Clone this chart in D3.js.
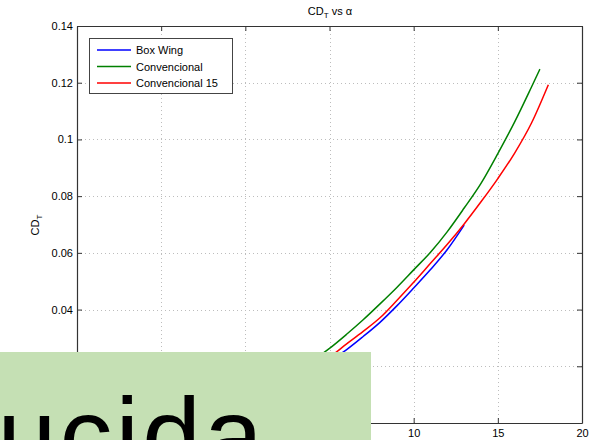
<!DOCTYPE html>
<html>
<head>
<meta charset="utf-8">
<script src="https://cdn.jsdelivr.net/npm/d3@7"></script>
<style>
  html, body { margin: 0; padding: 0; background: #fff; }
  svg { display: block; }
  text { font-family: "Liberation Sans", Arial, Helvetica, sans-serif; }
</style>
</head>
<body>
<svg id="chart" width="590" height="440"></svg>
<script>
// ---- data ----
const seriesNames = ["Box Wing", "Convencional", "Convencional 15"];
const seriesColors = ["#0000ff", "#008000", "#ff0000"];

const alphaBox = [0, 1, 2, 3, 4, 5, 6, 7, 8, 9, 10, 11, 12, 13];
const cdBox    = [0.0100, 0.0115, 0.0135, 0.0160, 0.0185, 0.0218, 0.0258, 0.0305, 0.0355, 0.0413, 0.0476, 0.0541, 0.0612, 0.0698];

const alphaConv = [0, 1, 2, 3, 4, 5, 6, 7, 8, 9, 10, 11, 12, 13, 14, 15, 16, 17, 17.5];
const cdConv    = [0.0110, 0.0128, 0.0152, 0.0183, 0.0220, 0.0263, 0.0312, 0.0364, 0.0420, 0.0478, 0.0540, 0.0602, 0.0675, 0.0758, 0.0845, 0.0950, 0.1062, 0.1185, 0.1248];

const alphaConv15 = [0, 1, 2, 3, 4, 5, 6, 7, 8, 9, 10, 11, 12, 13, 14, 15, 16, 17, 18];
const cdConv15    = [0.0100, 0.0118, 0.0142, 0.0172, 0.0205, 0.0233, 0.0278, 0.0323, 0.0371, 0.0432, 0.0496, 0.0563, 0.0630, 0.0702, 0.0780, 0.0862, 0.0952, 0.1058, 0.1193];

const xTicks = [-10, -5, 0, 5, 10, 15, 20];
// labels of ticks that are covered by the green overlay are left blank
const xTickLabels = ["", "", "", "", "10", "15", "20"];
const yTicks = [0, 0.02, 0.04, 0.06, 0.08, 0.1, 0.12, 0.14];
const yTickLabels = ["", "", "0.04", "0.06", "0.08", "0.1", "0.12", "0.14"];
const overlayWord = "ucida";

// ---- layout ----
const svg = d3.select("#chart");
const L = 77, R = 582, T = 26, B = 423;
const x = d3.scaleLinear().domain([-10, 20]).range([L, R]);
const y = d3.scaleLinear().domain([0, 0.14]).range([B, T]);

// grid
const grid = svg.append("g");
grid.selectAll(".gx").data(xTicks.slice(1, -1)).join("line")
  .attr("x1", d => Math.round(x(d)) + 0.5).attr("x2", d => Math.round(x(d)) + 0.5)
  .attr("y1", T).attr("y2", B)
  .attr("stroke", "#bdbdbd").attr("stroke-width", 1).attr("stroke-dasharray", "1,3");
grid.selectAll(".gy").data(yTicks.slice(1, -1)).join("line")
  .attr("y1", d => Math.round(y(d)) + 0.5).attr("y2", d => Math.round(y(d)) + 0.5)
  .attr("x1", L).attr("x2", R)
  .attr("stroke", "#bdbdbd").attr("stroke-width", 1).attr("stroke-dasharray", "1,3");

// axes (inward ticks, MATLAB style)
const axColor = "#333";
const fmtX = (d) => xTickLabels[xTicks.indexOf(d)];
const fmtY = (d) => yTickLabels[yTicks.indexOf(d)];
const gxB = svg.append("g").attr("transform", `translate(0,${B})`)
  .call(d3.axisBottom(x).tickValues(xTicks).tickSize(-5).tickSizeOuter(0).tickPadding(6).tickFormat(fmtX));
const gxT = svg.append("g").attr("transform", `translate(0,${T})`)
  .call(d3.axisTop(x).tickValues(xTicks).tickSize(-5).tickSizeOuter(0).tickFormat(""));
const gyL = svg.append("g").attr("transform", `translate(${L},0)`)
  .call(d3.axisLeft(y).tickValues(yTicks).tickSize(-5).tickSizeOuter(0).tickPadding(4).tickFormat(fmtY));
const gyR = svg.append("g").attr("transform", `translate(${R},0)`)
  .call(d3.axisRight(y).tickValues(yTicks).tickSize(-5).tickSizeOuter(0).tickFormat(""));
[gxB, gxT, gyL, gyR].forEach(g => {
  g.selectAll("path.domain").attr("stroke", axColor).attr("stroke-width", 1.2);
  g.selectAll(".tick line").attr("stroke", axColor);
  g.selectAll(".tick text").attr("fill", "#000").attr("font-size", 11)
    .attr("font-family", "'Liberation Sans', Arial, sans-serif");
  g.selectAll(".tick text").filter(function () { return this.textContent === ""; }).remove();
});

// lines
const line = d3.line().x(d => x(d[0])).y(d => y(d[1])).curve(d3.curveMonotoneX);
const series = [
  { a: alphaBox, c: cdBox, color: seriesColors[0] },
  { a: alphaConv, c: cdConv, color: seriesColors[1] },
  { a: alphaConv15, c: cdConv15, color: seriesColors[2] }
];
const plot = svg.append("g");
series.forEach(s => {
  plot.append("path")
    .datum(s.a.map((v, i) => [v, s.c[i]]))
    .attr("d", line).attr("fill", "none")
    .attr("stroke", s.color).attr("stroke-width", 1.5).attr("stroke-linejoin", "round");
});

// title
const title = svg.append("text").attr("x", 330).attr("y", 15)
  .attr("text-anchor", "middle").attr("font-size", 11).attr("fill", "#000");
title.append("tspan").text("CD");
title.append("tspan").attr("font-size", 8).attr("dy", 3).text("T");
title.append("tspan").attr("dy", -3).text(" vs α");

// y label
const ylab = svg.append("text").attr("transform", "translate(39,225) rotate(-90)")
  .attr("text-anchor", "middle").attr("font-size", 11).attr("fill", "#000");
ylab.append("tspan").text("CD");
ylab.append("tspan").attr("font-size", 8).attr("dy", 3).text("T");

// legend
const lg = svg.append("g");
lg.append("rect").attr("x", 89.5).attr("y", 38.5).attr("width", 143).attr("height", 55)
  .attr("fill", "#fff").attr("stroke", "#444").attr("stroke-width", 1);
seriesNames.forEach((n, i) => {
  const yy = 50 + i * 16.5;
  lg.append("line").attr("x1", 97).attr("x2", 131).attr("y1", yy).attr("y2", yy)
    .attr("stroke", seriesColors[i]).attr("stroke-width", 1.5);
  lg.append("text").attr("x", 136).attr("y", yy + 4).attr("font-size", 11)
    .attr("fill", "#000").text(n);
});

// overlay box
svg.append("rect").attr("x", 0).attr("y", 352).attr("width", 371).attr("height", 88)
  .attr("fill", "#c5e0b4");
svg.append("text").attr("x", 266).attr("y", 472).attr("text-anchor", "end")
  .attr("font-family", "Lato, 'Open Sans', sans-serif").attr("font-size", 106)
  .attr("letter-spacing", 3)
  .attr("fill", "#000").text(overlayWord);
</script>
</body>
</html>
